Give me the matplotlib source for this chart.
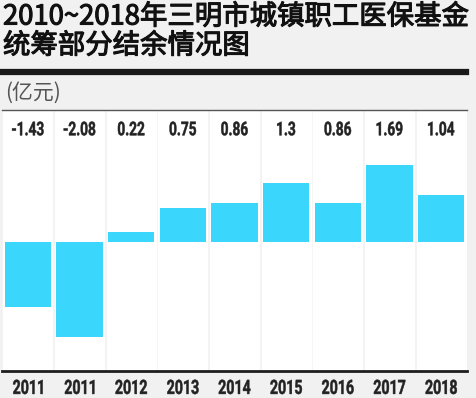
import numpy as np
import matplotlib
matplotlib.use("Agg")
from matplotlib import pyplot as plt
from matplotlib import patheffects as pe
from matplotlib.transforms import blended_transform_factory, Affine2D, ScaledTranslation
from matplotlib.textpath import TextPath
from matplotlib.patches import PathPatch
from matplotlib.font_manager import FontProperties

plt.rcParams['font.family'] = ['Noto Sans CJK SC', 'DejaVu Sans']

years = ['2011', '2011', '2012', '2013', '2014', '2015', '2016', '2017', '2018']
values = [-1.43, -2.08, 0.22, 0.75, 0.86, 1.3, 0.86, 1.69, 1.04]
value_labels = ['-1.43', '-2.08', '0.22', '0.75', '0.86', '1.3', '0.86', '1.69', '1.04']
title_lines = ['2010~2018年三明市城镇职工医保基金', '统筹部分结余情况图']

bg = '#f1f1f1'
bar_color = '#3ad6fb'
num_fp = FontProperties(family='Roboto', weight='bold')


def narrow_text(fig, x, y, s, cap_px, sx, trans):
    # squeezed digits, the reference uses a condensed face
    tp = TextPath((0, 0), s, size=cap_px / 0.711, prop=num_fp)
    ext = tp.get_extents()
    cx = (ext.x0 + ext.x1) / 2
    cy = (ext.y0 + ext.y1) / 2
    t = Affine2D().translate(-cx, -cy).scale(sx, 1) + ScaledTranslation(x, y, trans)
    fig.add_artist(PathPatch(tp, transform=t, facecolor='#222222', edgecolor='#222222',
                             lw=0.35, zorder=5))


fig = plt.figure(figsize=(4.76, 3.98), dpi=100, facecolor=bg)
ax = fig.add_axes([2/476, 27/398, 465/476, 261/398])
ax.set_facecolor(bg)

x = np.arange(len(years))
# white column bands
for xi in x:
    ax.axvspan(xi - 0.475, xi + 0.475, color='white', zorder=0)
ax.bar(x, values, width=0.9, color=bar_color, zorder=2)

ax.set_xlim(-0.5, len(years) - 0.5)
ax.set_ylim(-2.835, 2.90)
ax.set_xticks([])
ax.set_yticks([])
for s in ['left', 'right']:
    ax.spines[s].set_visible(False)
ax.spines['top'].set_color('#555555')
ax.spines['top'].set_linewidth(1)
ax.spines['bottom'].set_color('#1e1e1e')
ax.spines['bottom'].set_linewidth(2)

trans = blended_transform_factory(ax.transData, ax.transAxes)
for xi, lab in zip(x, value_labels):
    narrow_text(fig, xi, 0.929, lab, 13.5, 0.72, trans)
for xi, yr in zip(x, years):
    narrow_text(fig, xi, -0.061, yr, 14, 0.72, trans)

# title: regular weight thickened a little, first line fitted to the rule width
heavy = [pe.withStroke(linewidth=0.8, foreground='#111111')]
t1 = fig.text(3/476, 1 - 17/398, title_lines[0], ha='left', va='center',
              fontsize=19, color='#111111', path_effects=heavy)
t2 = fig.text(3/476, 1 - 46/398, title_lines[1], ha='left', va='center',
              fontsize=19, color='#111111', path_effects=heavy)
r = fig.canvas.get_renderer()
w = t1.get_window_extent(renderer=r).width
fs = 19 * 466 / w
t1.set_fontsize(fs)
t2.set_fontsize(fs)

fig.add_artist(plt.Line2D([3/476, 466/476], [1 - 72/398, 1 - 72/398],
                          transform=fig.transFigure, color='#1a1a1a', linewidth=4.5))
fig.text(5/476, 1 - 93/398, '(亿元)', ha='left', va='center',
         fontsize=15, color='#555555', fontweight='light')

fig.savefig('out.png', dpi=100, facecolor=bg)
